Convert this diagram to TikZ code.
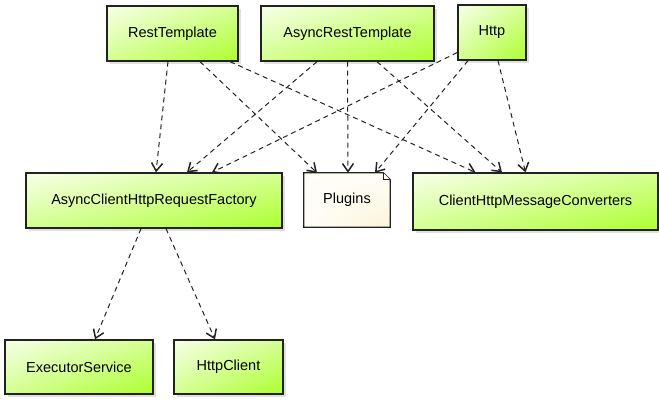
\documentclass[tikz,border=0pt]{standalone}
\usepackage{fontspec}
\setmainfont{Liberation Sans}
\usetikzlibrary{arrows.meta,shadows,shadings,backgrounds}
\definecolor{gA}{HTML}{F7FFE8}
\definecolor{gB}{HTML}{D4FF92}
\definecolor{gC}{HTML}{ADFF2F}
\definecolor{nA}{HTML}{FFFEF7}
\definecolor{nB}{HTML}{FBF4DA}
\definecolor{ln}{HTML}{222222}
\tikzset{
  cls/.style={draw=ln, line width=1.3pt, inner sep=0pt, shade,
    upper left=gA, upper right=gB, lower left=gB, lower right=gC,
    font=\fontsize{14.5}{16}\selectfont,
    drop shadow={shadow xshift=3pt, shadow yshift=-3pt, opacity=0.12, fill=black}},
  notetext/.style={inner sep=0pt, font=\fontsize{14.5}{16}\selectfont},
  dep/.style={draw=ln, line width=1pt, dash pattern=on 5pt off 4pt,
    -{Straight Barb[length=8pt,width=11pt,line width=1.5pt]}}
}
\begin{document}
\begin{tikzpicture}[x=1pt,y=1pt]
\useasboundingbox (0,0) rectangle (659,400);
% top row
\node[cls, minimum width=131pt, minimum height=55pt] (rt) at (172.5,366.5) {RestTemplate};
\node[cls, minimum width=173pt, minimum height=55pt] (art) at (347.5,366.5) {AsyncRestTemplate};
\node[cls, minimum width=68pt, minimum height=55pt] (http) at (492,367.5) {Http};
% middle row
\node[cls, minimum width=256pt, minimum height=55pt] (achrf) at (154,199.5) {AsyncClientHttpRequestFactory};
\node[notetext, minimum width=86pt, minimum height=54pt] (plug) at (347,200) {Plugins};
\node[cls, minimum width=245pt, minimum height=57pt] (chmc) at (535.5,198.5) {ClientHttpMessageConverters};
% bottom row
\node[cls, minimum width=148pt, minimum height=54pt] (exs) at (79,33) {ExecutorService};
\node[cls, minimum width=109pt, minimum height=54pt] (hc) at (228.5,33) {HttpClient};
% note shape behind Plugins text
\begin{scope}[on background layer]
\path[fill=black, opacity=0.12, xshift=3pt, yshift=-3pt]
  (plug.north west) -- ([xshift=-7pt]plug.north east) -- ([yshift=-7pt]plug.north east)
  -- (plug.south east) -- (plug.south west) -- cycle;
\path[draw=ln, line width=1.3pt, shade, upper left=nA, upper right=nA, lower left=nA, lower right=nB]
  (plug.north west) -- ([xshift=-7pt]plug.north east) -- ([yshift=-7pt]plug.north east)
  -- (plug.south east) -- (plug.south west) -- cycle;
\draw[ln, line width=1pt, fill=white]
  ([xshift=-7pt]plug.north east) -- ([xshift=-7pt,yshift=-7pt]plug.north east) -- ([yshift=-7pt]plug.north east);
\end{scope}
% dependencies
\draw[dep] ([xshift=-4.5pt]rt.south) -- ([xshift=2pt]achrf.north);
\draw[dep] ([xshift=27.5pt]rt.south) -- ([xshift=-30pt]plug.north);
\draw[dep] ([xshift=57.5pt]rt.south) -- ([xshift=-60pt]chmc.north);
\draw[dep] ([xshift=-30.5pt]art.south) -- ([xshift=33pt]achrf.north);
\draw[dep] (art.south) -- ([xshift=1pt]plug.north);
\draw[dep] ([xshift=29.5pt]art.south) -- ([xshift=-33.5pt]chmc.north);
\draw[dep] ([yshift=-20pt]http.west) -- ([xshift=58pt]achrf.north);
\draw[dep] ([xshift=-24pt]http.south) -- ([xshift=28pt]plug.north);
\draw[dep] ([xshift=6pt]http.south) -- ([xshift=-10pt]chmc.north);
\draw[dep] ([xshift=-13pt]achrf.south) -- ([xshift=16pt]exs.north);
\draw[dep] ([xshift=12pt]achrf.south) -- ([xshift=-13.5pt]hc.north);
\end{tikzpicture}
\end{document}
